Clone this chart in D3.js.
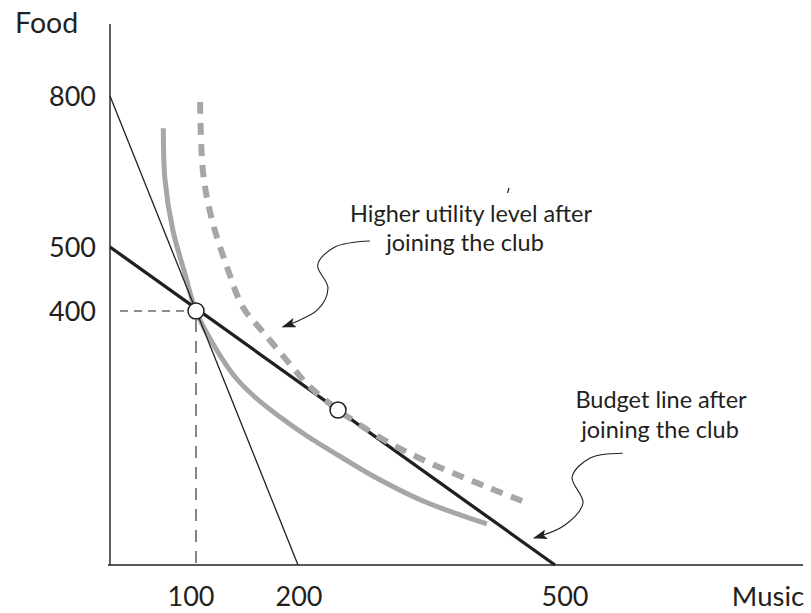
<!DOCTYPE html>
<html>
<head>
<meta charset="utf-8">
<script src="https://cdn.jsdelivr.net/npm/d3@7"></script>
<style>
  html, body { margin: 0; padding: 0; background: #fff; }
  svg { display: block; }
  text { font-family: Lato, "Open Sans", sans-serif; fill: #231f20; }
</style>
</head>
<body>
<svg id="chart" width="811" height="613"></svg>
<script>
// ---- data ----
const musicTicks = [100, 200, 500];
const foodTicks = [400, 500, 800];
const axisTitles = { x: "Music", y: "Food" };

// original budget line (800 food or 200 music)
const budgetOrigMusic = [0, 200];
const budgetOrigFood  = [800, 0];
// budget line after joining the club (500 / 500)
const budgetNewMusic = [0, 500];
const budgetNewFood  = [500, 0];

// original indifference curve (solid grey)
const ic1Music = [62, 64, 73, 87, 100, 119.6, 139.2, 158.8, 182.4, 210.5, 250.2, 287.5, 346, 420.6];
const ic1Food  = [736, 633, 534, 459, 400, 340.2, 294.5, 263, 233, 203.1, 170.1, 140.2, 100.8, 64.6];

// higher indifference curve (dashed grey)
const ic2Music = [104, 107, 115.7, 130.4, 146, 165.7, 192, 210.5, 229, 246.7, 268.9, 307, 354, 424, 465];
const ic2Food  = [788, 647, 553.6, 468.8, 406, 367, 316.5, 285, 263, 244, 223.6, 192, 160.6, 121, 99];

// optimum points
const optMusic = [100, 246.7];
const optFood  = [400, 244];

// annotation arrows (in data units)
const arrow1Music = [284, 243, 223, 235, 223, 185];
const arrow1Food  = [512, 500, 472, 436, 402, 375];
const arrow2Music = [579, 541, 520, 532.7, 511.7, 475.5];
const arrow2Food  = [176, 168.5, 138.6, 97.6, 63, 42.5];

const note1 = ["Higher utility level after", "joining the club"];
const note2 = ["Budget line after", "joining the club"];

// ---- scales (schematic axis, piecewise-linear) ----
const x = d3.scaleLinear().domain([0, 100, 200, 500]).range([110, 196, 298, 555]);
const y = d3.scaleLinear().domain([0, 400, 500, 800]).range([565, 311, 247, 96]);

const svg = d3.select("#chart");
const zip = (a, b) => a.map((v, i) => [v, b[i]]);

const line = d3.line().x(d => x(d[0])).y(d => y(d[1]));
const smooth = d3.line().x(d => x(d[0])).y(d => y(d[1])).curve(d3.curveCatmullRom.alpha(0.5));

// arrow marker
svg.append("defs").append("marker")
  .attr("id", "ah").attr("viewBox", "0 0 14 10")
  .attr("refX", 13).attr("refY", 5)
  .attr("markerWidth", 14).attr("markerHeight", 10)
  .attr("markerUnits", "userSpaceOnUse")
  .attr("orient", "auto")
  .append("path").attr("d", "M0,0 L14,5 L0,10 L3,5 Z").attr("fill", "#231f20");

// axes
svg.append("line").attr("x1", x(0)).attr("x2", x(0)).attr("y1", 24).attr("y2", y(0))
  .attr("stroke", "#231f20").attr("stroke-width", 1.4);
svg.append("line").attr("x1", x(0) - 2).attr("x2", 803).attr("y1", y(0)).attr("y2", y(0))
  .attr("stroke", "#231f20").attr("stroke-width", 1.6);

// guide dashed lines to the first optimum
svg.append("line").attr("x1", x(0) + 10).attr("x2", x(optMusic[0]) - 7)
  .attr("y1", y(optFood[0])).attr("y2", y(optFood[0]))
  .attr("stroke", "#231f20").attr("stroke-width", 1.1).attr("stroke-dasharray", "8,6");
svg.append("line").attr("x1", x(optMusic[0])).attr("x2", x(optMusic[0]))
  .attr("y1", y(optFood[0]) + 9).attr("y2", y(0))
  .attr("stroke", "#231f20").attr("stroke-width", 1.1).attr("stroke-dasharray", "12,9");

// indifference curves
svg.append("path").attr("d", smooth(zip(ic1Music, ic1Food)))
  .attr("fill", "none").attr("stroke", "#a4a6a9").attr("stroke-width", 5);

// original budget line (thin)
svg.append("path").attr("d", line(zip(budgetOrigMusic, budgetOrigFood)))
  .attr("fill", "none").attr("stroke", "#231f20").attr("stroke-width", 1.3);

// new budget line (thick)
svg.append("path").attr("d", line(zip(budgetNewMusic, budgetNewFood)))
  .attr("fill", "none").attr("stroke", "#231f20").attr("stroke-width", 3.3);

svg.append("path").attr("d", smooth(zip(ic2Music, ic2Food)))
  .attr("fill", "none").attr("stroke", "#a4a6a9").attr("stroke-width", 6)
  .attr("stroke-dasharray", "12,9");

// optimum points
svg.selectAll("circle.opt").data(zip(optMusic, optFood)).enter().append("circle")
  .attr("cx", d => x(d[0])).attr("cy", d => y(d[1])).attr("r", 8)
  .attr("fill", "#fff").attr("stroke", "#231f20").attr("stroke-width", 1.5);

// annotation arrows
[[arrow1Music, arrow1Food], [arrow2Music, arrow2Food]].forEach(([m, f]) => {
  svg.append("path").attr("d", smooth(zip(m, f)))
    .attr("fill", "none").attr("stroke", "#231f20").attr("stroke-width", 1.1)
    .attr("marker-end", "url(#ah)");
});

// stray tick mark near the note
svg.append("line").attr("x1", 509).attr("y1", 188).attr("x2", 507.5).attr("y2", 193)
  .attr("stroke", "#231f20").attr("stroke-width", 1.2);

// tick labels
svg.selectAll("text.yt").data(foodTicks).enter().append("text")
  .attr("x", 96).attr("y", d => y(d) + 9.5)
  .attr("text-anchor", "end").attr("font-size", 27).text(d => d);

const xNudge = { 100: -5, 200: 1, 500: 10 };
svg.selectAll("text.xt").data(musicTicks).enter().append("text")
  .attr("x", d => x(d) + (xNudge[d] || 0)).attr("y", 606)
  .attr("text-anchor", "middle").attr("font-size", 27).text(d => d);

// axis titles
svg.append("text").attr("x", 15).attr("y", 33).attr("font-size", 28.5).text(axisTitles.y);
svg.append("text").attr("x", 768).attr("y", 606).attr("text-anchor", "middle")
  .attr("font-size", 27.5).text(axisTitles.x);

// notes
const t1 = svg.append("text").attr("font-size", 23.5).attr("text-anchor", "middle");
t1.append("tspan").attr("x", 471).attr("y", 222).text(note1[0]);
t1.append("tspan").attr("x", 465).attr("y", 251).text(note1[1]);
const t2 = svg.append("text").attr("font-size", 23.5).attr("text-anchor", "middle");
t2.append("tspan").attr("x", 661).attr("y", 408).text(note2[0]);
t2.append("tspan").attr("x", 660).attr("y", 438).text(note2[1]);
</script>
</body>
</html>
